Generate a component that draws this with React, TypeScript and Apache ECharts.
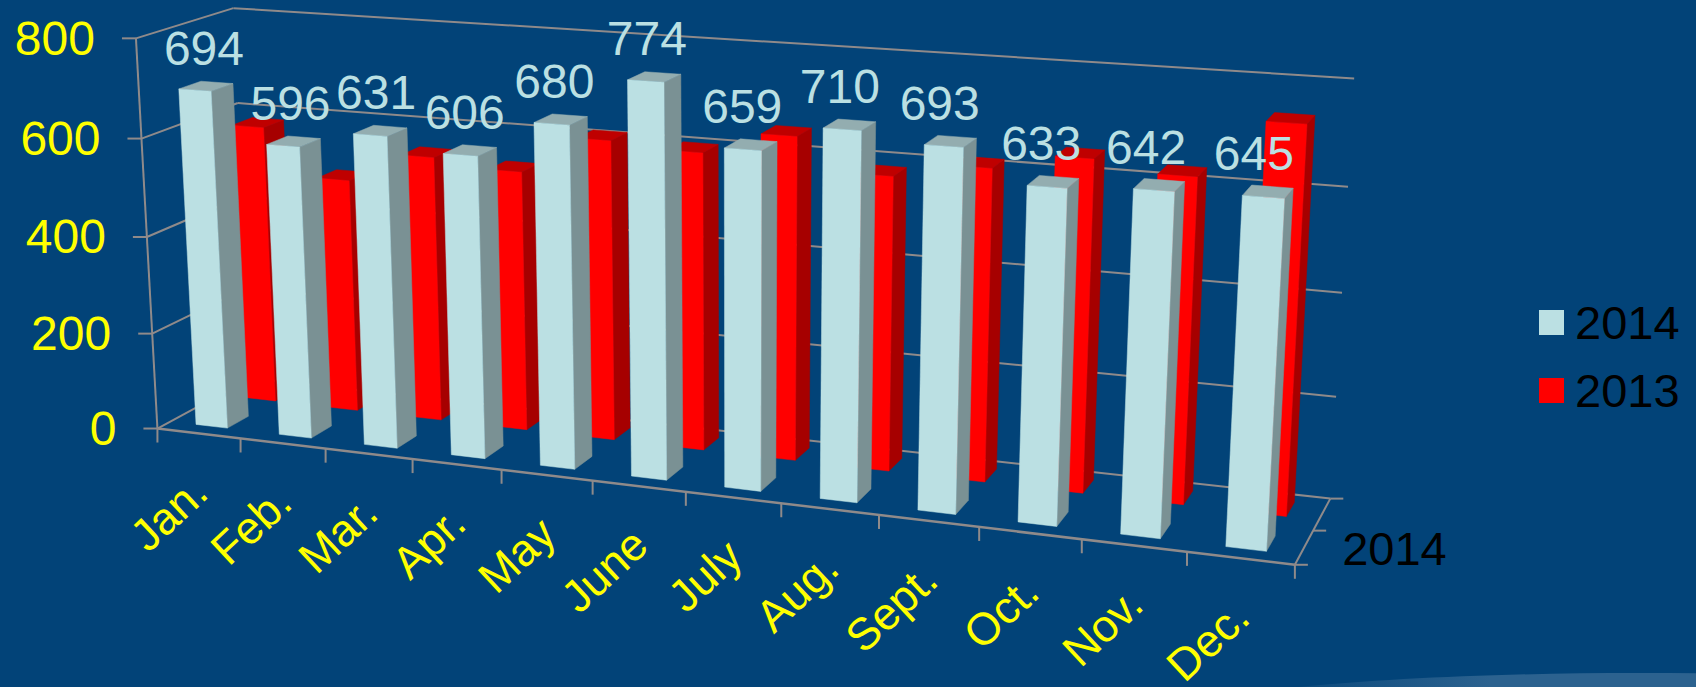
import React, { useEffect, useRef } from "react";
import * as echarts from "echarts";

const categories = ["Jan.", "Feb.", "Mar.", "Apr.", "May", "June", "July", "Aug.", "Sept.", "Oct.", "Nov.", "Dec."];
const values2014 = [694, 596, 631, 606, 680, 774, 659, 710, 693, 633, 642, 645];
const values2013 = [582, 486, 548, 533, 610, 600, 646, 583, 613, 645, 626, 737];
const valueTicks = [0, 200, 400, 600, 800];
const seriesNames = ["2014", "2013"];
const depthLabel = "2014";

const WIDTH = 1696;
const HEIGHT = 687;
const GRID_W = 1200;
const GRID_H = 600;
const FONT = '"Liberation Sans", Arial, sans-serif';
const AXIS_MAX = 800;
const N = categories.length;

// Perspective camera calibration: model point (category, value, depth) -> screen point
const calibration: [number, number, number, number, number][] = [
  [0, 0, 0, 157, 429], [1, 0, 0, 240.8, 438], [2, 0, 0, 325.8, 448.7], [3, 0, 0, 412.7, 459.3],
  [4, 0, 0, 501.5, 470], [5, 0, 0, 592.9, 481], [6, 0, 0, 686, 491.7], [7, 0, 0, 781, 504],
  [8, 0, 0, 879, 515], [9, 0, 0, 979, 527.3], [10, 0, 0, 1081.7, 539.3], [11, 0, 0, 1186.4, 552],
  [12, 0, 0, 1295, 565.5], [0, 200, 0, 152.3, 333], [0, 400, 0, 147.3, 236.7], [0, 600, 0, 141.6, 137.7],
  [0, 800, 0, 135.9, 38], [0, 800, 1, 233.4, 9], [0, 600, 1, 237.3, 103.3], [12, 800, 1, 1354, 78.5],
  [12, 600, 1, 1348.4, 187], [12, 400, 1, 1342.2, 292.7], [12, 200, 1, 1336, 396], [12, 0, 1, 1330.7, 498],
  [12, 0, 0.5, 1313, 529.7],
];

function solve(A: number[][], b: number[]): number[] {
  const n = b.length;
  const M = A.map((r, i) => [...r, b[i]]);
  for (let c = 0; c < n; c++) {
    let piv = c;
    for (let r = c + 1; r < n; r++) if (Math.abs(M[r][c]) > Math.abs(M[piv][c])) piv = r;
    [M[c], M[piv]] = [M[piv], M[c]];
    for (let r = 0; r < n; r++) {
      if (r === c) continue;
      const f = M[r][c] / M[c][c];
      for (let k = c; k <= n; k++) M[r][k] -= f * M[c][k];
    }
  }
  return M.map((r, i) => r[n] / r[i]);
}

function fitCamera(): number[] {
  const ATA = Array.from({ length: 11 }, () => new Array(11).fill(0));
  const ATb = new Array(11).fill(0);
  const add = (row: number[], rhs: number) => {
    for (let i = 0; i < 11; i++) {
      ATb[i] += row[i] * rhs;
      for (let j = 0; j < 11; j++) ATA[i][j] += row[i] * row[j];
    }
  };
  for (const [cx, cy, z, su, sv] of calibration) {
    const X = cx / N, Y = cy / AXIS_MAX, u = su / 1000, v = sv / 1000;
    add([X, Y, z, 1, 0, 0, 0, 0, -u * X, -u * Y, -u * z], u);
    add([0, 0, 0, 0, X, Y, z, 1, -v * X, -v * Y, -v * z], v);
  }
  return solve(ATA, ATb);
}
const cam = fitCamera();

function project(cx: number, val: number, z: number): number[] {
  const X = cx / N, Y = val / AXIS_MAX;
  const w = cam[8] * X + cam[9] * Y + cam[10] * z + 1;
  return [
    (1000 * (cam[0] * X + cam[1] * Y + cam[2] * z + cam[3])) / w,
    (1000 * (cam[4] * X + cam[5] * Y + cam[6] * z + cam[7])) / w,
  ];
}

// grid pixel (from the axes' scales) -> model plane
const planeX = (gx: number) => (gx / GRID_W) * N;
const planeV = (gy: number) => ((GRID_H - gy) / GRID_H) * AXIS_MAX;

const poly = (points: number[][], fill: string) => ({
  type: "polygon",
  shape: { points },
  style: { fill, stroke: fill, lineWidth: 0.5 },
});
const seg = (a: number[], b: number[], w = 2) => ({
  type: "line",
  shape: { x1: a[0], y1: a[1], x2: b[0], y2: b[1] },
  style: { stroke: "#8F8A8A", lineWidth: w },
});

const BAR_A0 = 0.31, BAR_A1 = 0.69;

function barRender(z0: number, z1: number, front: string, side: string, top: string) {
  return (_p: any, api: any) => {
    const i = api.value(0);
    const pt = api.coord([i, api.value(1)]);
    const band = api.size([1, 0])[0];
    const left = planeX(pt[0] - band / 2);
    const v = planeV(pt[1]);
    const base = planeV(api.coord([i, 0])[1]);
    const x0 = left + BAR_A0, x1 = left + BAR_A1;
    const P = project;
    return {
      type: "group",
      children: [
        poly([P(x1, base, z0), P(x1, base, z1), P(x1, v, z1), P(x1, v, z0)], side),
        poly([P(x0, v, z0), P(x1, v, z0), P(x1, v, z1), P(x0, v, z1)], top),
        poly([P(x0, base, z0), P(x1, base, z0), P(x1, v, z0), P(x0, v, z0)], front),
      ],
    };
  };
}

const labelRender = (_p: any, api: any) => {
  const i = api.value(0);
  const val = api.value(1);
  const pt = api.coord([i, val]);
  const band = api.size([1, 0])[0];
  const c = planeX(pt[0] - band / 2) + (BAR_A0 + BAR_A1) / 2;
  const s = project(c, planeV(pt[1]), 0.25);
  return {
    type: "text",
    x: s[0] - 2.3 - 1.08 * i,
    y: s[1] - 38,
    style: { text: String(val), fill: "#BBE0E3", font: `48px ${FONT}`, align: "center", verticalAlign: "middle" },
  };
};

const frameRender = (_p: any, _api: any) => {
  const ch: any[] = [];
  for (const t of valueTicks) {
    const a = project(0, t, 0), b = project(0, t, 1), c = project(N, t, 1);
    ch.push(seg(a, b), seg(b, c), seg([a[0] - 14, a[1]], a));
    ch.push({
      type: "text",
      x: a[0] - 41,
      y: a[1],
      style: { text: String(t), fill: "#FFFF00", font: `48px ${FONT}`, align: "right", verticalAlign: "middle" },
    });
  }
  ch.push(seg(project(0, 0, 0), project(0, AXIS_MAX, 0)));
  ch.push(seg(project(0, 0, 0), project(N, 0, 0), 2.5));
  ch.push(seg(project(N, 0, 0), project(N, 0, 1)));
  for (let i = 0; i <= N; i++) {
    const a = project(i, 0, 0);
    ch.push(seg(a, [a[0], a[1] + 14]));
  }
  for (const z of [0, 0.5, 1]) {
    const a = project(N, 0, z);
    ch.push(seg(a, [a[0] + 13, a[1]]));
  }
  categories.forEach((name, i) => {
    const m = project(i + 0.5, 0, 0);
    ch.push({
      type: "text",
      x: m[0] + 1,
      y: m[1] + 51,
      rotation: (43 * Math.PI) / 180,
      style: { text: name, fill: "#FFFF00", font: `45px ${FONT}`, align: "right", verticalAlign: "middle" },
    });
  });
  const d = project(N, 0, 0.5);
  ch.push({
    type: "text",
    x: d[0] + 29,
    y: d[1] + 18,
    style: { text: depthLabel, fill: "#000000", font: `47px ${FONT}`, align: "left", verticalAlign: "middle" },
  });
  return { type: "group", children: ch };
};

const toData = (arr: number[]) => arr.map((v, i) => [i, v]);

export default function App() {
  const ref = useRef<HTMLDivElement>(null);
  useEffect(() => {
    document.body.style.margin = "0";
    document.body.style.overflow = "hidden";
    const chart = echarts.init(ref.current!, undefined, { renderer: "svg" });
    chart.setOption({
      animation: false,
      backgroundColor: "#024378",
      grid: { left: 0, top: 0, width: GRID_W, height: GRID_H },
      xAxis: { type: "category", data: categories, show: false },
      yAxis: { type: "value", min: 0, max: AXIS_MAX, interval: 200, show: false },
      legend: {
        data: seriesNames,
        orient: "vertical",
        left: 1534,
        top: 294,
        itemWidth: 25,
        itemHeight: 25,
        itemGap: 21,
        icon: "rect",
        selectedMode: false,
        textStyle: { color: "#000000", fontSize: 47, fontFamily: FONT, padding: [0, 0, 0, 6] },
      },
      graphic: [
        {
          type: "ellipse",
          silent: true,
          z: 0,
          shape: { cx: 1640, cy: 725, rx: 500, ry: 52 },
          style: {
            fill: {
              type: "linear", x: 0, y: 0, x2: 1, y2: 0,
              colorStops: [
                { offset: 0.1, color: "rgba(44,98,143,0)" },
                { offset: 0.35, color: "rgba(44,98,143,1)" },
                { offset: 1, color: "rgba(44,98,143,1)" },
              ],
            },
          },
        },
      ],
      series: [
        { type: "custom", name: "frame", silent: true, data: [[0, 0]], renderItem: frameRender, clip: false },
        {
          type: "custom", name: "2013", silent: true, data: toData(values2013), clip: false,
          itemStyle: { color: "#FF0000" },
          renderItem: barRender(0.66, 0.88, "#FF0000", "#A60000", "#BF0000"),
        },
        {
          type: "custom", name: "2014", silent: true, data: toData(values2014), clip: false,
          itemStyle: { color: "#BBE0E3" },
          renderItem: barRender(0.135, 0.36, "#BBE0E3", "#7A9194", "#93ADB0"),
        },
        { type: "custom", name: "labels", silent: true, data: toData(values2014), clip: false, renderItem: labelRender },
      ],
    });
    return () => chart.dispose();
  }, []);
  return <div ref={ref} style={{ width: WIDTH, height: HEIGHT }} />;
}
